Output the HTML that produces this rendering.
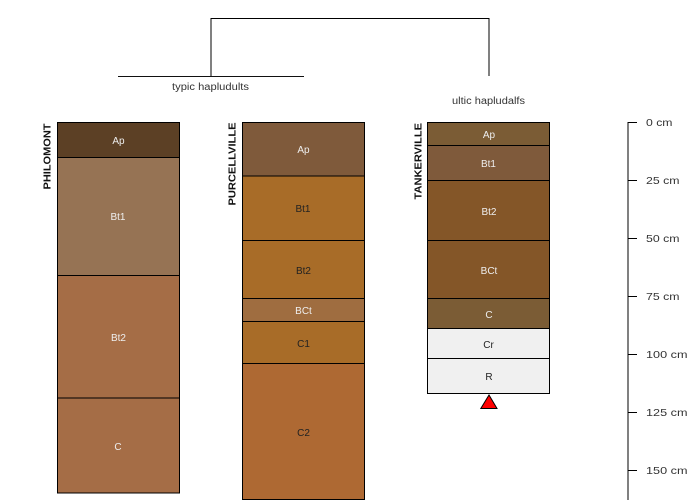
<!DOCTYPE html>
<html><head><meta charset="utf-8"><style>
html,body{margin:0;padding:0;background:#fff}
svg{display:block}
text{font-family:"Liberation Sans",sans-serif;font-size:10px}
.m{text-anchor:middle}
.w{fill:#eee}
.k{fill:#222}
.d{fill:#333}
.a{fill:#333;font-size:10.500px}
.n{font-weight:bold;font-size:10.500px;fill:#111}
</style></head><body>
<svg width="700" height="500" viewBox="0 0 700 500" xmlns="http://www.w3.org/2000/svg">
<g fill="none" stroke-width="1">
<path d="M211 76V18.500H489V76" stroke="#000"/>
<path d="M118 76.500H304" stroke="#111"/>
</g>
<text x="172" y="90" class="d" textLength="77" lengthAdjust="spacingAndGlyphs">typic hapludults</text>
<text x="452" y="104" class="d" textLength="73" lengthAdjust="spacingAndGlyphs">ultic hapludalfs</text>

<g stroke="#000" stroke-width="1">
<rect x="57.500" y="122.500" width="122" height="35" fill="#5c4025"/>
<rect x="57.500" y="157.500" width="122" height="118" fill="#967354"/>
<rect x="57.500" y="275.500" width="122" height="122.500" fill="#a56d46"/>
<rect x="57.500" y="398" width="122" height="95" fill="#a56d46"/>

<rect x="242.500" y="122.500" width="122" height="53.500" fill="#7f5a3b"/>
<rect x="242.500" y="176" width="122" height="64.500" fill="#a86c28"/>
<rect x="242.500" y="240.500" width="122" height="58" fill="#a86c28"/>
<rect x="242.500" y="298.500" width="122" height="23" fill="#9f6d40"/>
<rect x="242.500" y="321.500" width="122" height="42" fill="#a86c28"/>
<rect x="242.500" y="363.500" width="122" height="136" fill="#ae6933"/>

<rect x="427.500" y="122.500" width="122" height="23" fill="#7b5c35"/>
<rect x="427.500" y="145.500" width="122" height="35" fill="#7f5a3b"/>
<rect x="427.500" y="180.500" width="122" height="60" fill="#845628"/>
<rect x="427.500" y="240.500" width="122" height="58" fill="#845628"/>
<rect x="427.500" y="298.500" width="122" height="30" fill="#7b5c35"/>
<rect x="427.500" y="328.500" width="122" height="30" fill="#f0f0f0"/>
<rect x="427.500" y="358.500" width="122" height="35" fill="#f0f0f0"/>
</g>

<text class="m w" x="118.500" y="144">Ap</text>
<text class="m w" x="118" y="220">Bt1</text>
<text class="m w" x="118.500" y="341">Bt2</text>
<text class="m w" x="118" y="450">C</text>

<text class="m w" x="303.500" y="153">Ap</text>
<text class="m k" x="303" y="212">Bt1</text>
<text class="m k" x="303.500" y="274">Bt2</text>
<text class="m w" x="303.500" y="314">BCt</text>
<text class="m k" x="303.500" y="347">C1</text>
<text class="m k" x="303.500" y="436">C2</text>

<text class="m w" x="489" y="138">Ap</text>
<text class="m w" x="488.500" y="167">Bt1</text>
<text class="m w" x="489" y="215">Bt2</text>
<text class="m w" x="489" y="274">BCt</text>
<text class="m w" x="489" y="318">C</text>
<text class="m k" x="488.500" y="348">Cr</text>
<text class="m k" x="489" y="380">R</text>

<text class="n" transform="translate(50.500,189.500) rotate(-90)" textLength="66" lengthAdjust="spacingAndGlyphs">PHILOMONT</text>
<text class="n" transform="translate(235.500,205.500) rotate(-90)" textLength="83" lengthAdjust="spacingAndGlyphs">PURCELLVILLE</text>
<text class="n" transform="translate(421.500,199.500) rotate(-90)" textLength="76.500" lengthAdjust="spacingAndGlyphs">TANKERVILLE</text>

<polygon points="489,395 480.800,408.500 497,408.500" fill="#f00" stroke="#000" stroke-width="1"/>

<path d="M628 500V122.500H637M628 180.500H637M628 238.500H637M628 296.500H637M628 354.500H637M628 412.500H637M628 470.500H637" fill="none" stroke="#000" stroke-width="1"/>
<text x="646" y="126" class="a" textLength="26.500" lengthAdjust="spacingAndGlyphs">0 cm</text>
<text x="646" y="184" class="a" textLength="33.500" lengthAdjust="spacingAndGlyphs">25 cm</text>
<text x="646" y="242" class="a" textLength="33.500" lengthAdjust="spacingAndGlyphs">50 cm</text>
<text x="646" y="300" class="a" textLength="33.500" lengthAdjust="spacingAndGlyphs">75 cm</text>
<text x="646" y="358" class="a" textLength="41.500" lengthAdjust="spacingAndGlyphs">100 cm</text>
<text x="646" y="416" class="a" textLength="41.500" lengthAdjust="spacingAndGlyphs">125 cm</text>
<text x="646" y="474" class="a" textLength="41.500" lengthAdjust="spacingAndGlyphs">150 cm</text>
</svg>
</body></html>
